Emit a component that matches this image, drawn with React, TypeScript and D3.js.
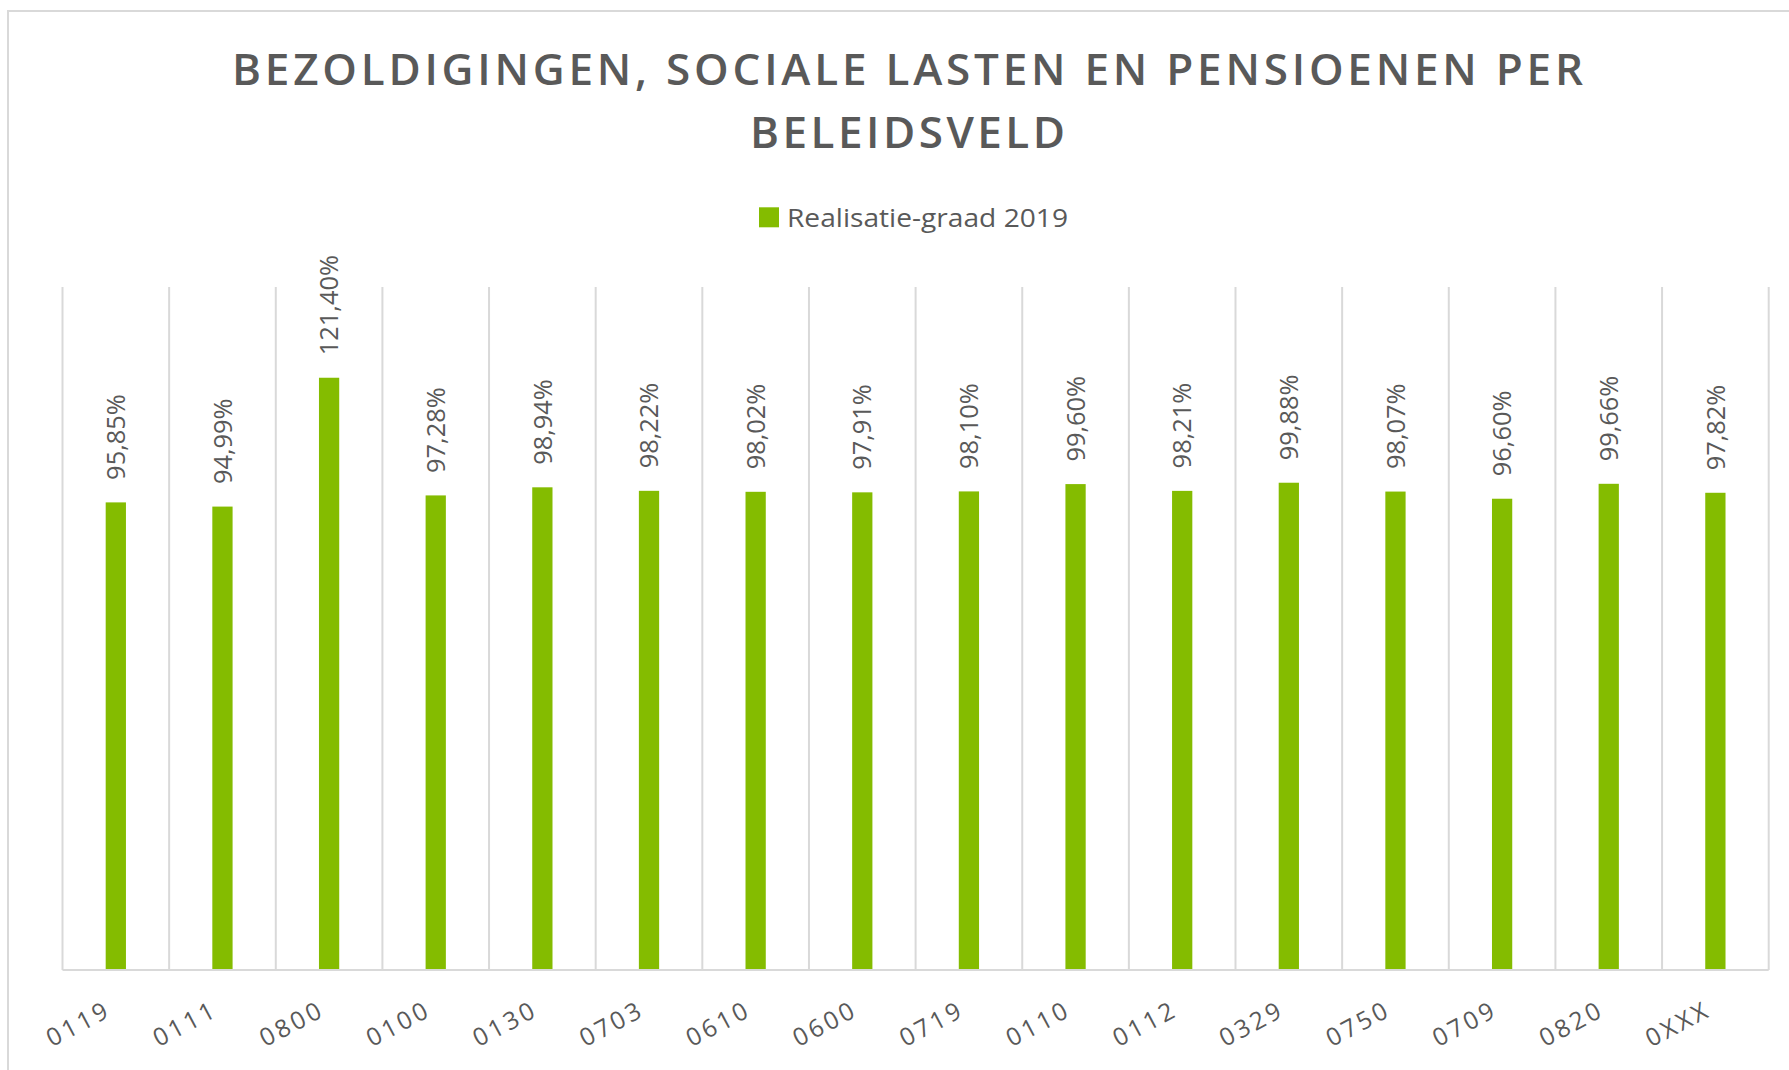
import React from "react";
import * as d3 from "d3";

const categories = ["0119","0111","0800","0100","0130","0703","0610","0600","0719","0110","0112","0329","0750","0709","0820","0XXX"];
const values = [95.85, 94.99, 121.40, 97.28, 98.94, 98.22, 98.02, 97.91, 98.10, 99.60, 98.21, 99.88, 98.07, 96.60, 99.66, 97.82];
const seriesName = "Realisatie-graad 2019";
const titleLines = ["BEZOLDIGINGEN, SOCIALE LASTEN EN PENSIOENEN PER", "BELEIDSVELD"];
const yDomain = [0, 140];

const W = 1789;
const H = 1070;
const GREEN = "#84bc00";
const TEXT = "#595959";
const GRID = "#d9d9d9";
const FONT = "'Open Sans', 'Noto Sans', sans-serif";

export default function App() {
  const x = d3.scaleBand<string>().domain(categories).range([62.5, 1768.7]).padding(0);
  const y = d3.scaleLinear().domain(yDomain).range([970, 287]);
  const bw = x.bandwidth();
  const barW = bw * 0.19;
  const fmt = (v: number) => v.toFixed(2).replace(".", ",") + "%";
  const boundaries = categories.map((c) => x(c) as number).concat([x.range()[1]]);

  return (
    <svg width={W} height={H} style={{ position: "absolute", left: 0, top: 0, background: "#fff" }}>
      <rect x={0} y={0} width={W} height={H} fill="#fff" />
      <rect x={8} y={11} width={1900} height={1200} fill="#fff" stroke={GRID} strokeWidth={2} />
      {/* Title */}
      <text x={232} y={85} fontFamily={FONT} fontWeight={600} fontSize={44} fill={TEXT}
        textLength={1351} lengthAdjust="spacing">{titleLines[0]}</text>
      <text x={750} y={147.7} fontFamily={FONT} fontWeight={600} fontSize={44} fill={TEXT}
        textLength={315} lengthAdjust="spacing">{titleLines[1]}</text>
      {/* Legend */}
      <rect x={759} y={207.3} width={20} height={20} fill={GREEN} />
      <text x={787} y={226.7} fontFamily={FONT} fontSize={25.5} fill={TEXT}
        textLength={281} lengthAdjust="spacingAndGlyphs">{seriesName}</text>
      {/* Gridlines */}
      {boundaries.map((bx, i) => (
        <line key={"g" + i} x1={bx} x2={bx} y1={287} y2={970} stroke={GRID} strokeWidth={2} />
      ))}
      {/* Bars */}
      {categories.map((c, i) => {
        const cx = (x(c) as number) + bw / 2;
        return (
          <rect key={"b" + c} x={cx - barW / 2} y={y(values[i])} width={barW}
            height={y(0) - y(values[i])} fill={GREEN} />
        );
      })}
      {/* Value labels */}
      {categories.map((c, i) => {
        const cx = (x(c) as number) + bw / 2;
        const ty = y(values[i]) - 22.5;
        return (
          <text key={"l" + c} transform={`translate(${cx},${ty}) rotate(-90)`} dy="0.36em"
            fontFamily={FONT} fontSize={25.4} fill={TEXT}>{fmt(values[i])}</text>
        );
      })}
      {/* Axis line */}
      <line x1={x.range()[0]} x2={x.range()[1]} y1={970} y2={970} stroke={GRID} strokeWidth={2} />
      {/* Category labels */}
      {categories.map((c) => {
        const cx = (x(c) as number) + bw / 2;
        return (
          <text key={"c" + c} transform={`translate(${cx - 3},${1015}) rotate(-28)`} textAnchor="end"
            fontFamily={FONT} fontSize={24.5} letterSpacing={3.2} fill={TEXT}>{c}</text>
        );
      })}
    </svg>
  );
}
